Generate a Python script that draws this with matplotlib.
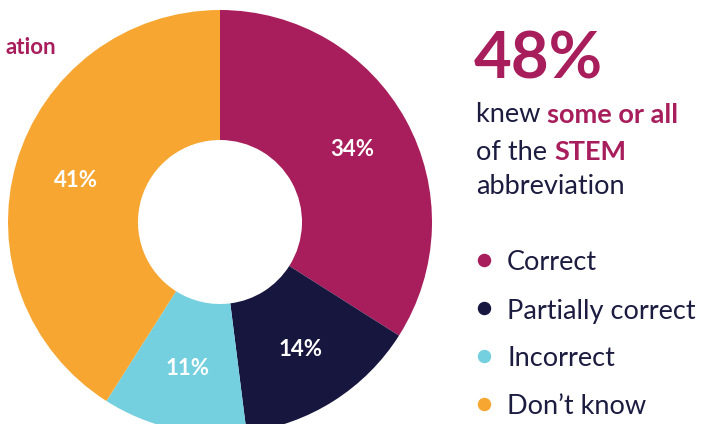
import matplotlib.pyplot as plt

plt.rcParams['font.family'] = ['Lato', 'DejaVu Sans']

labels = ['Correct', 'Partially correct', 'Incorrect', "Don\u2019t know"]
values = [34, 14, 11, 41]
colors = ['#A81D5B', '#16163F', '#74CFDF', '#F7A632']
headline = '48%'

magenta = '#A81D5B'
navy = '#1C1C40'
H = 424

fig = plt.figure(figsize=(7.14, 4.24), dpi=100)
ax = fig.add_axes([0, 0, 1, 1])

ax.pie(values, colors=colors, startangle=90, counterclock=False,
       center=(220, H - 222), radius=212,
       wedgeprops=dict(width=130, edgecolor='none'),
       autopct=lambda p: f'{p:.0f}%', pctdistance=0.71,
       textprops=dict(color='white', fontsize=16, fontweight='bold'))

ax.set_xlim(0, 714)
ax.set_ylim(0, H)
ax.set_aspect('equal')
ax.axis('off')

# cut off title at top left
ax.text(56, H - 48, 'ation', ha='right', va='center', color=magenta,
        fontsize=16, fontweight='bold')

ax.text(474, H - 60, headline, ha='left', va='center', color=magenta,
        fontsize=47, fontweight='bold')

renderer = fig.canvas.get_renderer()


def rich_line(x, y, parts, size=19.5):
    # draw a line made of differently styled pieces
    for txt, col, wt in parts:
        t = ax.text(x, H - y, txt, ha='left', va='center', color=col,
                    fontsize=size, fontweight=wt)
        bb = t.get_window_extent(renderer=renderer)
        x += bb.width * 714 / fig.bbox.width


rich_line(476, 115, [('knew ', navy, 'normal'), ('some or all', magenta, 'bold')])
rich_line(476, 152, [('of the ', navy, 'normal'), ('STEM', magenta, 'bold')])
rich_line(476, 187, [('abbreviation', navy, 'normal')])

for i, (lab, col) in enumerate(zip(labels, colors)):
    y = 263 + i * 48
    ax.scatter([484], [H - y + 3], s=75, color=col, zorder=3)
    ax.text(507, H - y, lab, ha='left', va='center', color=navy, fontsize=19.5)

fig.savefig('out.png', dpi=100)
